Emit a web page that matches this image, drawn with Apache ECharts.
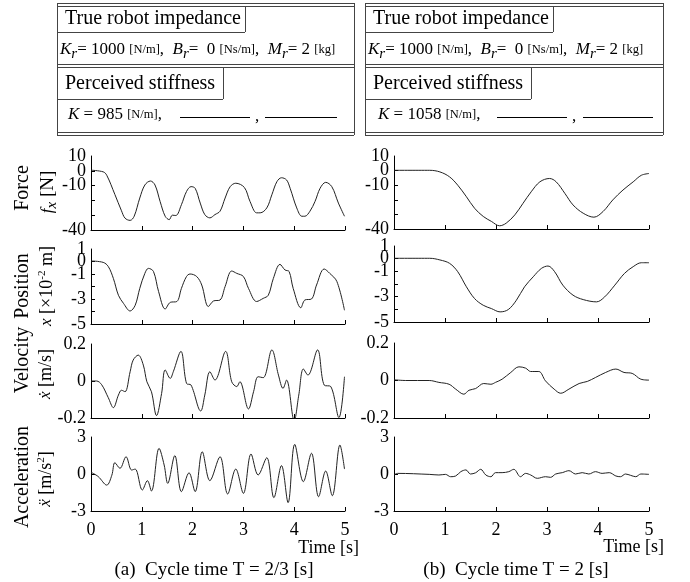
<!DOCTYPE html>
<html>
<head>
<meta charset="utf-8">
<script src="https://cdn.jsdelivr.net/npm/echarts@6/dist/echarts.min.js"></script>
<style>
  html, body { margin: 0; background: #fff; }
  #chart { width: 690px; height: 582px; }
</style>
</head>
<body>
<div id="chart"></div>
<script>
// time axis ticks [s]
const timeTicks = [0, 1, 2, 3, 4, 5];

// (a) cycle time T = 2/3 s   -> [time, value]
const forceA = [[0,0.4],[0.24,-0.7],[0.31,-3],[0.47,-16],[0.6,-27],[0.67,-32],[0.77,-33.5],[0.85,-30.7],[0.96,-18.4],[1.06,-9.6],[1.17,-6.9],[1.26,-9.6],[1.36,-20.7],[1.46,-30.7],[1.54,-33],[1.6,-30],[1.67,-30.2],[1.78,-22.9],[1.88,-14],[1.97,-10.7],[2.05,-11.8],[2.15,-21.8],[2.24,-29.6],[2.34,-31.8],[2.44,-29.6],[2.54,-27.3],[2.64,-18.4],[2.74,-10.7],[2.85,-8.4],[3.02,-11.3],[3.13,-20.7],[3.26,-28.4],[3.33,-28.4],[3.46,-25.1],[3.56,-16.2],[3.66,-7.3],[3.75,-4.7],[3.85,-6.2],[3.92,-11.8],[4.05,-25.1],[4.15,-30.7],[4.21,-30.7],[4.31,-27.3],[4.41,-20.7],[4.51,-11.8],[4.62,-7.8],[4.74,-10.7],[4.87,-21.8],[4.99,-30.7]];
const positionA = [[0,0.04],[0.24,-0.07],[0.34,-0.4],[0.44,-1.35],[0.54,-2.7],[0.64,-3.35],[0.77,-3.96],[0.87,-3.5],[0.96,-2.15],[1.06,-0.95],[1.13,-0.55],[1.23,-0.8],[1.33,-2.4],[1.46,-3.8],[1.56,-3.27],[1.69,-3.2],[1.78,-2.15],[1.88,-1.2],[1.95,-1.0],[2.08,-1.2],[2.18,-1.88],[2.31,-3.6],[2.41,-3.16],[2.54,-3.08],[2.64,-2.0],[2.77,-0.76],[2.87,-0.95],[3.0,-1.2],[3.1,-2.15],[3.26,-3.2],[3.39,-2.95],[3.49,-2.7],[3.59,-1.35],[3.72,-0.23],[3.82,-0.68],[3.9,-0.8],[3.98,-2.15],[4.13,-3.7],[4.21,-3.08],[4.34,-3.0],[4.44,-1.88],[4.59,-0.6],[4.7,-0.95],[4.84,-1.6],[4.99,-3.9]];
const velocityA = [[0,0],[0.11,0],[0.21,-0.02],[0.34,-0.09],[0.44,-0.144],[0.54,-0.076],[0.6,-0.05],[0.67,-0.058],[0.77,0.05],[0.83,0.113],[0.93,0.14],[1.03,0.086],[1.1,-0.004],[1.19,-0.058],[1.29,-0.187],[1.39,-0.067],[1.46,0.06],[1.56,0.014],[1.62,0.05],[1.77,0.16],[1.88,-0.013],[1.97,-0.022],[2.16,-0.162],[2.24,-0.076],[2.34,0.05],[2.44,0.005],[2.65,0.16],[2.77,-0.004],[2.87,-0.03],[2.93,-0.004],[3.1,-0.151],[3.2,-0.058],[3.29,0.023],[3.39,0.018],[3.56,0.168],[3.69,0.032],[3.78,-0.04],[3.85,0.005],[4.0,-0.214],[4.09,-0.076],[4.18,0.065],[4.27,0.032],[4.46,0.168],[4.59,-0.022],[4.72,-0.03],[4.88,-0.198],[4.99,0.023]];
const accelA = [[0,0.14],[0.14,-0.2],[0.31,-0.9],[0.41,-0.1],[0.47,0.92],[0.57,0.46],[0.69,1.4],[0.8,0.32],[0.87,0.4],[1.01,-1.3],[1.11,-0.54],[1.19,-1.38],[1.34,2.08],[1.44,0.73],[1.51,-0.76],[1.65,1.49],[1.78,-1.43],[1.93,0.1],[2.05,-1.43],[2.19,1.8],[2.34,-0.54],[2.54,1.4],[2.69,-1.62],[2.85,0.4],[3.0,-1.57],[3.15,1.62],[3.29,-0.08],[3.46,1.32],[3.6,-1.92],[3.75,0.68],[3.88,-2.32],[4.01,2.4],[4.18,-0.62],[4.34,1.68],[4.48,-1.84],[4.62,0.24],[4.75,-1.76],[4.9,2.35],[4.99,0.4]];

// (b) cycle time T = 2 s
const forceB = [[0,0.2],[0.7,0.2],[0.9,-0.9],[1.09,-4.3],[1.25,-10],[1.42,-17.9],[1.58,-25.8],[1.75,-31.4],[1.91,-34.8],[2.07,-37.8],[2.2,-36],[2.37,-30.3],[2.53,-22.4],[2.69,-14.5],[2.86,-7.7],[3.05,-5.4],[3.18,-7.7],[3.35,-15.6],[3.51,-23.5],[3.71,-29.2],[3.92,-31.9],[4.1,-28],[4.29,-20.1],[4.49,-13.3],[4.69,-7.7],[4.85,-3.2],[5.0,-2.0]];
const positionB = [[0,0.03],[0.7,0.03],[0.9,-0.1],[1.09,-0.37],[1.25,-1.03],[1.42,-2.22],[1.58,-3.15],[1.75,-3.68],[1.91,-3.94],[2.08,-4.2],[2.24,-4.02],[2.4,-3.28],[2.56,-2.22],[2.73,-1.43],[2.89,-0.77],[3.02,-0.58],[3.15,-1.03],[3.31,-2.09],[3.51,-2.88],[3.71,-3.23],[3.97,-3.41],[4.13,-3.02],[4.33,-2.09],[4.52,-1.16],[4.69,-0.63],[4.85,-0.32],[5.0,-0.32]];
const velocityB = [[0,0.004],[0.23,0],[0.69,0],[0.88,-0.01],[1.08,-0.02],[1.21,-0.046],[1.37,-0.073],[1.47,-0.052],[1.6,-0.043],[1.76,-0.016],[1.9,-0.02],[1.99,-0.01],[2.12,0.007],[2.29,0.043],[2.45,0.073],[2.58,0.066],[2.68,0.048],[2.84,0.048],[2.97,-0.002],[3.14,-0.046],[3.27,-0.068],[3.43,-0.046],[3.63,-0.016],[3.79,-0.005],[3.95,0.016],[4.15,0.043],[4.35,0.061],[4.51,0.043],[4.67,0.038],[4.84,0.007],[5.0,0.002]];
const accelB = [[0,-0.08],[0.07,0.05],[0.69,-0.03],[0.88,-0.08],[1.01,-0.03],[1.11,-0.22],[1.21,-0.16],[1.31,0.19],[1.41,0.33],[1.5,0],[1.6,0.1],[1.7,0.38],[1.8,-0.08],[1.9,-0.22],[1.99,0.11],[2.12,0.11],[2.25,0.19],[2.35,0.38],[2.48,-0.22],[2.58,0.05],[2.68,-0.08],[2.81,-0.35],[2.97,-0.22],[3.07,-0.27],[3.17,0],[3.3,0.11],[3.43,0.27],[3.56,0],[3.69,0.11],[3.82,0],[3.95,0.19],[4.08,0.05],[4.22,0.11],[4.35,-0.16],[4.44,-0.22],[4.54,0],[4.64,-0.11],[4.74,-0.22],[4.84,0],[5.0,-0.03]];

// y-axis tick labels that are printed
const forceLabels = [10, 0, -10, -40];
const positionLabels = [1, 0, -1, -3, -5];
const velocityLabels = [0.2, 0, -0.2];
const accelLabels = [3, 0, -3];

const FONT = 'Liberation Serif';
const INK = '#222';

const rows = [
  { min: -40, max: 10, interval: 10, labels: forceLabels, top: [156, 156], height: [74, 73] },
  { min: -5, max: 1, interval: 1, labels: positionLabels, top: [249, 246], height: [75, 76] },
  { min: -0.2, max: 0.2, interval: 0.2, labels: velocityLabels, top: [344, 343], height: [74, 75] },
  { min: -3, max: 3, interval: 3, labels: accelLabels, top: [437, 437], height: [74, 74] }
];
const cols = [
  { left: 91, width: 254, data: [forceA, positionA, velocityA, accelA] },
  { left: 394, width: 255, data: [forceB, positionB, velocityB, accelB] }
];

const fmt = v => String(Math.round(v * 10) / 10);
const labelStyle = { color: '#000', fontFamily: FONT, fontSize: 18, margin: 5 };

const grids = [], xAxes = [], yAxes = [], series = [];
cols.forEach((col, c) => {
  rows.forEach((row, r) => {
    const i = grids.length;
    grids.push({ left: col.left, top: row.top[c], width: col.width, height: row.height[c] });
    xAxes.push({
      type: 'value', gridIndex: i, min: 0, max: 5, interval: 1,
      axisLine: { onZero: false, lineStyle: { color: '#000', width: 1 } },
      axisTick: { inside: true, length: 4, lineStyle: { color: '#000' } },
      axisLabel: {
        show: r === 3, color: '#000', fontFamily: FONT, fontSize: 18, margin: 10,
        showMinLabel: true, showMaxLabel: true,
        formatter: v => timeTicks.includes(v) ? String(v) : ''
      },
      splitLine: { show: false }
    });
    // main y axis: line, ticks and every printed label except the top one
    const yi = yAxes.length;
    yAxes.push({
      type: 'value', gridIndex: i, position: 'left', min: row.min, max: row.max, interval: row.interval,
      axisLine: { show: true, lineStyle: { color: '#000', width: 1 } },
      axisTick: { show: true, inside: true, length: 4, lineStyle: { color: '#000' } },
      axisLabel: Object.assign({}, labelStyle, {
        showMinLabel: true, showMaxLabel: false,
        formatter: v => Math.abs(v - row.max) > 1e-9 && row.labels.some(l => Math.abs(l - v) < 1e-9) ? fmt(v) : ''
      }),
      splitLine: { show: false }
    });
    // overlay y axis on the same side: only the top label (tight spacing would hide it otherwise)
    yAxes.push({
      type: 'value', gridIndex: i, position: 'left', offset: 0,
      min: row.min, max: row.max, interval: row.interval,
      axisLine: { show: false }, axisTick: { show: false }, splitLine: { show: false },
      axisLabel: Object.assign({}, labelStyle, {
        showMinLabel: false, showMaxLabel: true,
        formatter: v => Math.abs(v - row.max) < 1e-9 ? fmt(v) : ''
      })
    });
    series.push({
      type: 'line', xAxisIndex: i, yAxisIndex: yi, data: col.data[r],
      smooth: 0.35, symbol: 'none', lineStyle: { color: INK, width: 1 }
    });
  });
});

const rich = {
  i: { fontFamily: FONT, fontStyle: 'italic', fontSize: 17 },
  sub: { fontFamily: FONT, fontStyle: 'italic', fontSize: 15, padding: [8, 0, 0, 0] },
  sup: { fontFamily: FONT, fontSize: 11, padding: [0, 0, 10, 0] },
  u: { fontFamily: FONT, fontSize: 12.5 }
};

function text(x, y, str, opts) {
  opts = opts || {};
  return {
    type: 'text', x: x, y: y, rotation: opts.rotation || 0, silent: true, z: 10,
    style: {
      text: str, fill: '#000', fontFamily: FONT, fontSize: opts.size || 17,
      align: opts.align || 'left', verticalAlign: 'middle', rich: rich
    }
  };
}
function line(x1, y1, x2, y2, color) {
  return { type: 'line', silent: true, z: 10,
    shape: { x1: x1, y1: y1, x2: x2, y2: y2 },
    style: { stroke: color || '#444', lineWidth: 1 } };
}

function panelBox(x0, x1, tab1, tab2, kText, kx, blank1, blank2) {
  const g = [];
  [3, 6, 64, 67, 132, 135].forEach(y => g.push(line(x0, y + 0.5, x1, y + 0.5)));
  g.push(line(x0 + 0.5, 3, x0 + 0.5, 135), line(x1 + 0.5, 3, x1 + 0.5, 135));
  g.push(line(tab1 + 0.5, 6, tab1 + 0.5, 32), line(x0, 32.5, tab1, 32.5));
  g.push(line(tab2 + 0.5, 67, tab2 + 0.5, 99), line(x0, 99.5, tab2, 99.5));
  g.push(text(x0 + 8, 19, 'True robot impedance', { size: 20 }));
  g.push(text(x0 + 3, 50,
    '{i|K}{sub|r}= 1000 {u|[N/m]},  {i|B}{sub|r}=  0 {u|[Ns/m]},  {i|M}{sub|r}= 2 {u|[kg]}', { size: 17 }));
  g.push(text(x0 + 8, 84, 'Perceived stiffness', { size: 20 }));
  g.push(text(kx, 115, '{i|K} = ' + kText + ' {u|[N/m]},', { size: 17 }));
  g.push(line(blank1[0], 117.5, blank1[1], 117.5, '#000'));
  g.push(text(blank1[1] + 5, 117, ',', { size: 17 }));
  g.push(line(blank2[0], 117.5, blank2[1], 117.5, '#000'));
  return g;
}

const graphics = []
  .concat(panelBox(57, 354, 245, 223, '985', 68, [180, 250], [265, 337]))
  .concat(panelBox(365, 663, 553, 531, '1058', 378, [497, 567], [583, 653]))
  .concat([
    text(23, 188, 'Force', { rotation: Math.PI / 2, size: 20, align: 'center' }),
    text(48, 192, '{i|f}{sub|x} [N]', { rotation: Math.PI / 2, size: 19, align: 'center' }),
    text(23, 286, 'Position', { rotation: Math.PI / 2, size: 20, align: 'center' }),
    text(47, 286, '{i|x} [×10{sup|-2} m]', { rotation: Math.PI / 2, size: 18, align: 'center' }),
    text(23, 360, 'Velocity', { rotation: Math.PI / 2, size: 20, align: 'center' }),
    text(46, 374, '{i|ẋ} [m/s]', { rotation: Math.PI / 2, size: 18, align: 'center' }),
    text(23, 477, 'Acceleration', { rotation: Math.PI / 2, size: 20, align: 'center' }),
    text(46, 479, '{i|ẍ} [m/s{sup|2}]', { rotation: Math.PI / 2, size: 18, align: 'center' }),
    text(359, 548, 'Time [s]', { size: 18, align: 'right' }),
    text(664, 547, 'Time [s]', { size: 18, align: 'right' }),
    text(214, 570, '(a)  Cycle time T = 2/3 [s]', { size: 19, align: 'center' }),
    text(516, 570, '(b)  Cycle time T = 2 [s]', { size: 19, align: 'center' })
  ]);

const chart = echarts.init(document.getElementById('chart'));
chart.setOption({
  animation: false,
  backgroundColor: '#fff',
  grid: grids,
  xAxis: xAxes,
  yAxis: yAxes,
  series: series,
  graphic: graphics
});
</script>
</body>
</html>
